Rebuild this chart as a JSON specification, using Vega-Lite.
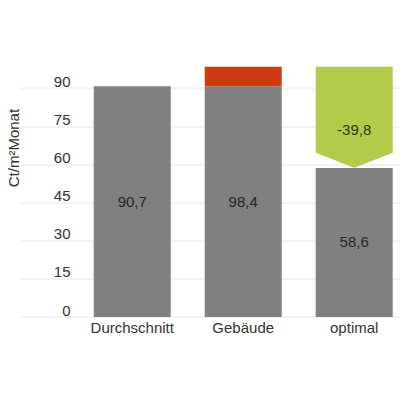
{
  "$schema": "https://vega.github.io/schema/vega-lite/v6.json",
  "autosize": "none",
  "width": 380,
  "height": 254.4,
  "padding": {"left": 20, "top": 62.6, "right": 0, "bottom": 83},
  "background": "white",
  "data": {
    "values": [
      {"cat": "Durchschnitt", "seg": "base", "start": 0, "end": 90.7, "label": "90,7"},
      {"cat": "Gebäude", "seg": "base", "start": 0, "end": 90.7, "label": "98,4"},
      {"cat": "Gebäude", "seg": "extra", "start": 90.7, "end": 98.4, "label": ""},
      {"cat": "optimal", "seg": "base", "start": 0, "end": 58.6, "label": "58,6"},
      {"cat": "optimal", "seg": "saving", "start": 58.6, "end": 98.4, "label": "-39,8"}
    ]
  },
  "encoding": {
    "x": {
      "field": "cat",
      "type": "nominal",
      "sort": ["Durchschnitt", "Gebäude", "optimal"],
      "title": null,
      "scale": {"paddingInner": 0.306, "paddingOuter": 0.365, "align": 0.91},
      "axis": {
        "labelAngle": 0,
        "labelFontSize": 15,
        "labelColor": "#333333",
        "labelPadding": 3,
        "domain": false,
        "ticks": false,
        "grid": false
      }
    }
  },
  "layer": [
    {
      "transform": [{"filter": "datum.seg != 'saving'"}],
      "mark": {"type": "bar"},
      "encoding": {
        "y": {
          "field": "start",
          "type": "quantitative",
          "title": "Ct/m²Monat",
          "scale": {"domain": [0, 100], "nice": false},
          "axis": {
            "values": [0, 15, 30, 45, 60, 75, 90],
            "domain": false,
            "ticks": false,
            "tickSize": 0,
            "labelAlign": "right",
            "labelPadding": -50,
            "labelBaseline": "alphabetic",
            "labelOffset": -2,
            "labelFontSize": 15,
            "labelColor": "#333333",
            "gridColor": "#e8e8e8",
            "titleFontSize": 15,
            "titleFontWeight": "normal",
            "titleColor": "#333333",
            "titleX": -7,
            "titleY": 85,
            "titleBaseline": "middle",
            "titleAlign": "center"
          }
        },
        "y2": {"field": "end"},
        "color": {
          "field": "seg",
          "type": "nominal",
          "legend": null,
          "scale": {"domain": ["base", "extra", "saving"], "range": ["#808080", "#d03a12", "#b3cc4a"]}
        }
      }
    },
    {
      "transform": [{"filter": "datum.seg == 'saving'"}],
      "mark": {
        "type": "point",
        "filled": true,
        "opacity": 1,
        "strokeWidth": 0,
        "shape": "M-0.77,0L0.77,0L0.77,1.72L0,2.02L-0.77,1.72Z",
        "size": 10000,
        "color": "#b3cc4a"
      },
      "encoding": {
        "y": {"field": "end", "type": "quantitative"}
      }
    },
    {
      "transform": [
        {"filter": "datum.seg == 'base'"},
        {"fold": ["start", "end"], "as": ["k", "v"]}
      ],
      "mark": {"type": "text", "fontSize": 15, "color": "#262626"},
      "encoding": {
        "y": {"aggregate": "mean", "field": "v", "type": "quantitative"},
        "text": {"field": "label"}
      }
    },
    {
      "transform": [
        {"filter": "datum.seg == 'saving'"},
        {"fold": ["start", "end"], "as": ["k", "v"]}
      ],
      "mark": {"type": "text", "fontSize": 15, "color": "#2a3312", "dy": 13},
      "encoding": {
        "y": {"aggregate": "mean", "field": "v", "type": "quantitative"},
        "text": {"field": "label"}
      }
    }
  ],
  "config": {
    "view": {"stroke": null},
    "font": "Liberation Sans"
  }
}
